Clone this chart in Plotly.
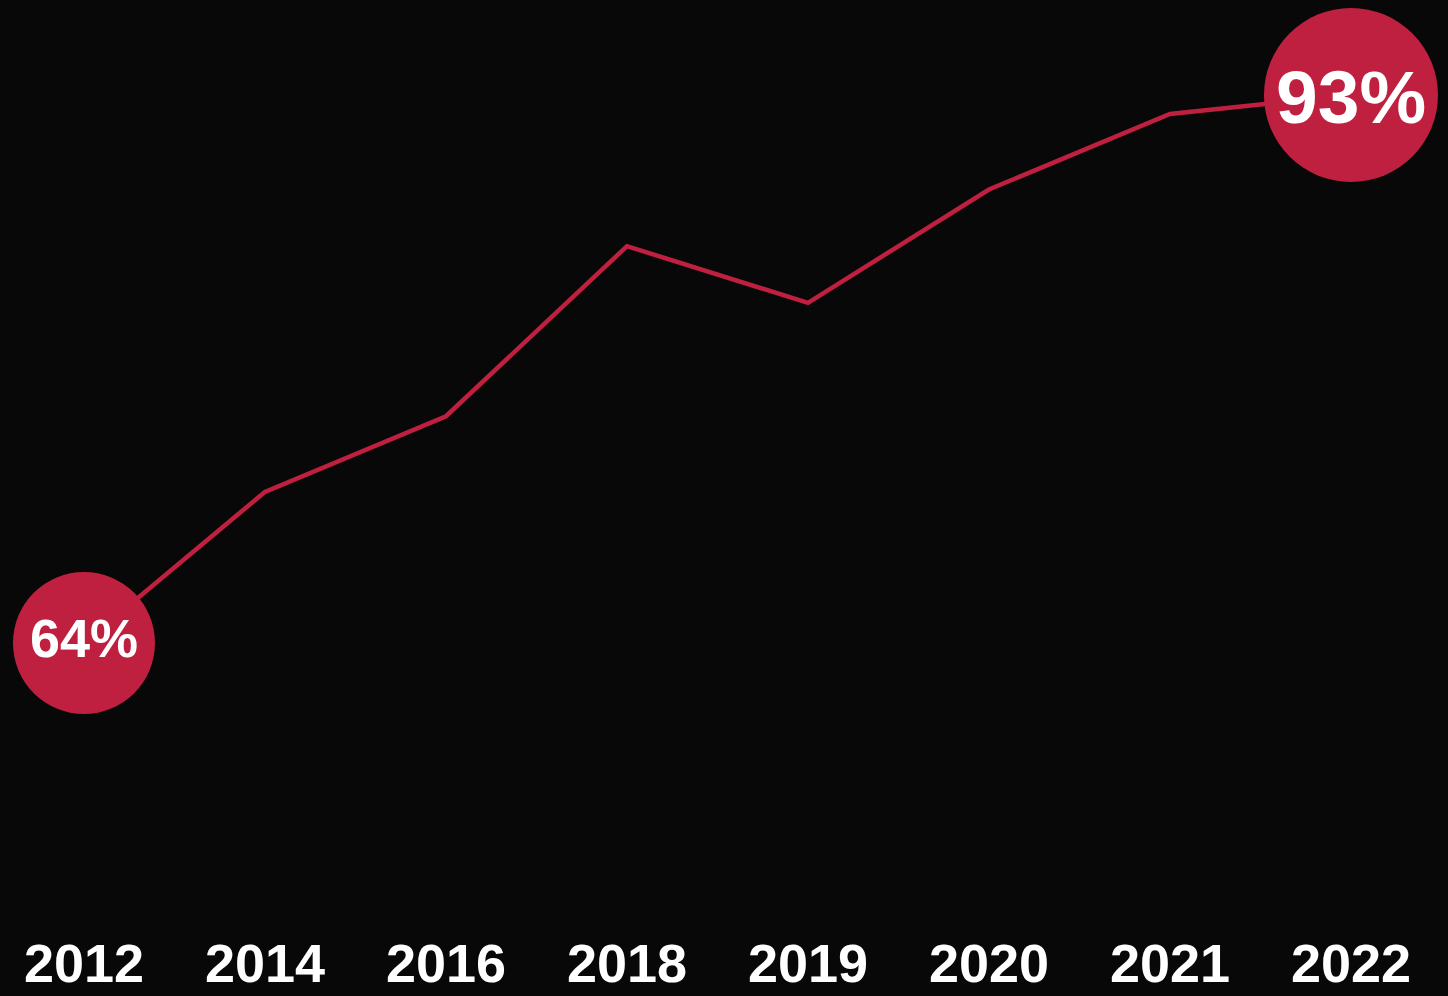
import plotly.graph_objects as go

# Share by year (%)
years = ["2012", "2014", "2016", "2018", "2019", "2020", "2021", "2022"]
values = [64, 72, 76, 85, 82, 88, 92, 93]

RED = "#C0203F"
BG = "#080808"
FONT = "Liberation Sans, Arial, sans-serif"

idx = list(range(len(years)))
n = len(years)

# Only the first and last points get a labelled bubble
sizes = [142 if i == 0 else 174 if i == n - 1 else 0 for i in idx]

fig = go.Figure(
    go.Scatter(
        x=idx,
        y=values,
        mode="lines+markers",
        line=dict(color=RED, width=4.5),
        marker=dict(size=sizes, color=RED, opacity=1, line=dict(width=0)),
        cliponaxis=False,
        hoverinfo="skip",
    )
)

# Value labels inside the two bubbles
for i, fsize, shift in [(0, 54, 5), (n - 1, 75, -2)]:
    fig.add_annotation(
        x=idx[i],
        y=values[i],
        text=f"{values[i]}%",
        showarrow=False,
        xanchor="center",
        yanchor="middle",
        yshift=shift,
        font=dict(family=FONT, size=fsize, color="white", weight="bold"),
    )

fig.update_layout(
    width=1448,
    height=996,
    margin=dict(l=0, r=0, t=0, b=69),
    paper_bgcolor=BG,
    plot_bgcolor=BG,
    showlegend=False,
    xaxis=dict(
        range=[-0.464, 7.536],
        tickvals=idx,
        ticktext=years,
        showgrid=False,
        zeroline=False,
        showline=False,
        ticks="",
        automargin=False,
        tickfont=dict(family=FONT, size=54, color="white", weight="bold"),
        fixedrange=True,
    ),
    yaxis=dict(
        range=[48.972, 98.027],
        visible=False,
        showgrid=False,
        zeroline=False,
        automargin=False,
        fixedrange=True,
    ),
)

fig.write_html("out.html")
